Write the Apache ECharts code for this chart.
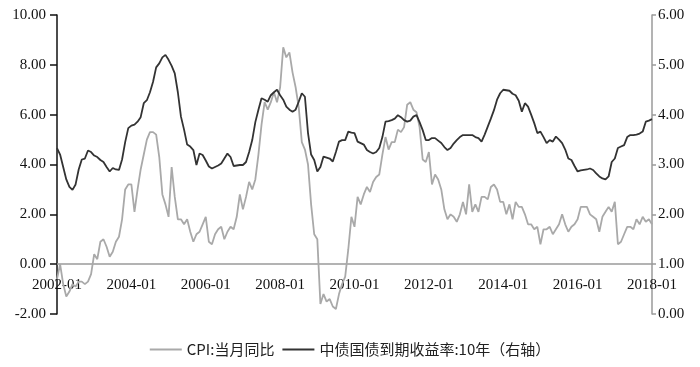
<!DOCTYPE html>
<html>
<head>
<meta charset="utf-8">
<script src="https://cdn.jsdelivr.net/npm/echarts@6/dist/echarts.min.js"></script>
<style>
html,body{margin:0;padding:0;background:#fff;}
#chart{width:700px;height:367px;}
</style>
</head>
<body>
<div id="chart"></div>
<script>
// Months 2002-01 .. 2018-01
var startYear = 2002, endYear = 2018;
var months = [];
for (var y = startYear; y <= endYear; y++) {
  for (var m = 1; m <= 12; m++) {
    if (y === endYear && m > 1) break;
    months.push(y + '-' + (m < 10 ? '0' + m : m));
  }
}

// CPI: 当月同比 (%), left axis
var cpi = [
  -0.6, 0.0, -0.8, -1.3, -1.1, -0.8, -0.9, -0.7, -0.7, -0.8, -0.7, -0.4,
  0.4, 0.2, 0.9, 1.0, 0.7, 0.3, 0.5, 0.9, 1.1, 1.8, 3.0, 3.2,
  3.2, 2.1, 3.0, 3.8, 4.4, 5.0, 5.3, 5.3, 5.2, 4.3, 2.8, 2.4,
  1.9, 3.9, 2.7, 1.8, 1.8, 1.6, 1.8, 1.3, 0.9, 1.2, 1.3, 1.6,
  1.9, 0.9, 0.8, 1.2, 1.4, 1.5, 1.0, 1.3, 1.5, 1.4, 1.9, 2.8,
  2.2, 2.7, 3.3, 3.0, 3.4, 4.4, 5.6, 6.5, 6.2, 6.5, 6.9, 6.5,
  7.1, 8.7, 8.3, 8.5, 7.7, 7.1, 6.3, 4.9, 4.6, 4.0, 2.4, 1.2,
  1.0, -1.6, -1.2, -1.5, -1.4, -1.7, -1.8, -1.2, -0.8, -0.5, 0.6, 1.9,
  1.5, 2.7, 2.4, 2.8, 3.1, 2.9, 3.3, 3.5, 3.6, 4.4, 5.1, 4.6,
  4.9, 4.9, 5.4, 5.3, 5.5, 6.4, 6.5, 6.2, 6.1, 5.5, 4.2, 4.1,
  4.5, 3.2, 3.6, 3.4, 3.0, 2.2, 1.8, 2.0, 1.9, 1.7, 2.0, 2.5,
  2.0, 3.2, 2.1, 2.4, 2.1, 2.7, 2.7, 2.6, 3.1, 3.2, 3.0, 2.5,
  2.5, 2.0, 2.4, 1.8, 2.5, 2.3, 2.3, 2.0, 1.6, 1.6, 1.4, 1.5,
  0.8, 1.4, 1.4, 1.5, 1.2, 1.4, 1.6, 2.0, 1.6, 1.3, 1.5, 1.6,
  1.8, 2.3, 2.3, 2.3, 2.0, 1.9, 1.8, 1.3, 1.9, 2.1, 2.3, 2.1,
  2.5, 0.8, 0.9, 1.2, 1.5, 1.5, 1.4, 1.8, 1.6, 1.9, 1.7, 1.8,
  1.6
];

// 中债国债到期收益率:10年 (%), right axis
var bond10y = [
  3.33, 3.20, 2.95, 2.70, 2.55, 2.49, 2.60, 2.90, 3.10, 3.12, 3.28, 3.25,
  3.18, 3.15, 3.09, 3.05, 2.95, 2.86, 2.93, 2.90, 2.89, 3.10, 3.45, 3.73,
  3.78, 3.80, 3.86, 3.95, 4.23, 4.29, 4.45, 4.66, 4.95, 5.03, 5.15, 5.20,
  5.10, 4.98, 4.83, 4.45, 3.96, 3.70, 3.40, 3.36, 3.29, 2.99, 3.22, 3.19,
  3.08, 2.96, 2.92, 2.95, 2.98, 3.02, 3.12, 3.22, 3.15, 2.97, 2.98, 2.99,
  2.99, 3.05, 3.25, 3.49, 3.85, 4.10, 4.33, 4.30, 4.26, 4.39, 4.45, 4.50,
  4.39, 4.30, 4.16, 4.10, 4.06, 4.10, 4.26, 4.43, 4.36, 3.63, 3.20, 3.09,
  2.86, 2.95, 3.16, 3.14, 3.12, 3.06, 3.25, 3.46, 3.49, 3.49, 3.66, 3.64,
  3.63, 3.46, 3.43, 3.40, 3.29, 3.25, 3.22, 3.25, 3.33, 3.55, 3.86, 3.87,
  3.89, 3.92, 3.99, 3.95, 3.89, 3.86, 3.88, 3.96, 3.99, 3.85, 3.69, 3.49,
  3.49, 3.53, 3.53, 3.48, 3.43, 3.35, 3.29, 3.33, 3.42, 3.49, 3.55, 3.59,
  3.59, 3.59, 3.59, 3.55, 3.53, 3.46, 3.60, 3.76, 3.92, 4.09, 4.30, 4.43,
  4.50, 4.49, 4.48, 4.42, 4.39, 4.28, 4.06, 4.23, 4.16, 4.00, 3.83, 3.63,
  3.66, 3.55, 3.43, 3.49, 3.46, 3.56, 3.50, 3.43, 3.30, 3.12, 3.09, 2.97,
  2.86, 2.88, 2.89, 2.90, 2.92, 2.89, 2.82, 2.76, 2.72, 2.70, 2.76, 3.05,
  3.12, 3.33, 3.36, 3.39, 3.55, 3.59, 3.59, 3.60, 3.62, 3.66, 3.86, 3.88,
  3.91
];

var seriesNames = ['CPI:当月同比', '中债国债到期收益率:10年（右轴）'];
var leftTicks = { min: -2, max: 10, interval: 2 };
var rightTicks = { min: 0, max: 6, interval: 1 };

var serif = '"Liberation Serif", "Times New Roman", serif';
var gridTop = 15, gridBottom = 53, chartH = 367;
var plotH = chartH - gridTop - gridBottom;
// x axis sits at left-axis zero: distance from the grid bottom
var zeroOffset = -plotH * (0 - leftTicks.min) / (leftTicks.max - leftTicks.min);

var chart = echarts.init(document.getElementById('chart'), null, { renderer: 'canvas' });
chart.setOption({
  animation: false,
  backgroundColor: '#fff',
  grid: { left: 57, right: 48, top: gridTop, bottom: gridBottom, containLabel: false },
  legend: {
    bottom: 5,
    left: 'center',
    itemWidth: 32,
    itemHeight: 10,
    itemGap: 8,
    icon: 'path://M0,4 L32,4 L32,6 L0,6 Z',
    textStyle: { fontFamily: '"Noto Sans CJK SC", sans-serif', fontSize: 15, color: '#222' },
    data: seriesNames
  },
  xAxis: {
    type: 'category',
    data: months,
    boundaryGap: false,
    position: 'bottom',
    offset: zeroOffset,
    axisLine: { onZero: false, lineStyle: { color: '#9a9a9a', width: 1.5 } },
    axisTick: { show: false },
    axisLabel: {
      interval: 23,
      margin: 13,
      color: '#111',
      fontFamily: serif,
      fontSize: 15
    },
    splitLine: { show: false }
  },
  yAxis: [
    {
      type: 'value',
      min: leftTicks.min, max: leftTicks.max, interval: leftTicks.interval,
      position: 'left',
      axisLine: { show: true, onZero: false, lineStyle: { color: '#111', width: 1.5 } },
      axisTick: { show: true, length: 7, lineStyle: { color: '#111', width: 1.5 } },
      axisLabel: { margin: 11, color: '#111', fontFamily: serif, fontSize: 15,
        formatter: function (v) { return v.toFixed(2); } },
      splitLine: { show: false }
    },
    {
      type: 'value',
      min: rightTicks.min, max: rightTicks.max, interval: rightTicks.interval,
      position: 'right',
      axisLine: { show: true, onZero: false, lineStyle: { color: '#9a9a9a', width: 1.5 } },
      axisTick: { show: true, length: 4, lineStyle: { color: '#9a9a9a', width: 1.5 } },
      axisLabel: { margin: 6, color: '#111', fontFamily: serif, fontSize: 15,
        formatter: function (v) { return v.toFixed(2); } },
      splitLine: { show: false }
    }
  ],
  series: [
    {
      name: seriesNames[0],
      type: 'line',
      yAxisIndex: 0,
      data: cpi,
      symbol: 'none',
      lineStyle: { color: '#a9a9a9', width: 1.8 },
      itemStyle: { color: '#a9a9a9' },
      z: 2
    },
    {
      name: seriesNames[1],
      type: 'line',
      yAxisIndex: 1,
      data: bond10y,
      symbol: 'none',
      lineStyle: { color: '#333333', width: 1.8 },
      itemStyle: { color: '#333333' },
      z: 3
    }
  ]
});
</script>
</body>
</html>
